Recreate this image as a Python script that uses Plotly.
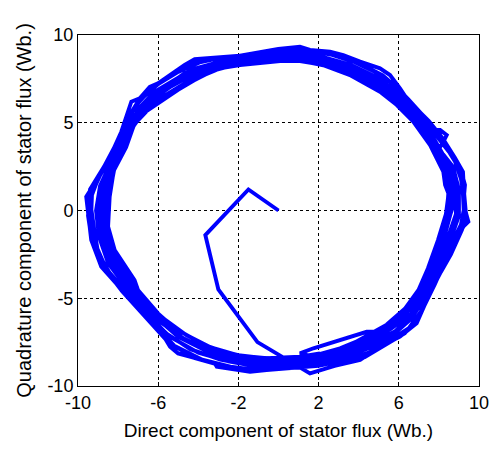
import plotly.graph_objects as go

# Start-up transient of the stator flux (d, q)
transient_d = [0.0, -1.5, -3.65, -3.0, -1.05, 1.57, 2.8, 4.07]
transient_q = [0.0, 1.2, -1.4, -4.5, -7.5, -9.28, -8.85, -8.52]

# Outer lap (counter-clockwise, starting at bottom right)
lap_outer_d = [4.07, 5.06, 6.06, 6.89, 7.39, 8.06, 8.39, 9.22, 9.47, 9.22, 9.30, 9.05, 8.89,
               7.39, 6.72, 6.06, 5.56, 5.06, 4.07, 3.23, 2.57, 1.57, 1.07, -0.01, -1.92, -3.18,
               -4.18, -4.68, -5.51, -6.01, -6.42, -6.92, -7.34, -7.84, -8.59, -8.84, -9.59, -9.34,
               -8.84, -7.51, -6.01, -5.41, -5.01, -3.18, -3.08, -1.42, 0.24, 1.07, 2.07]
lap_outer_q = [-8.52, -7.76, -7.19, -6.43, -5.10, -3.39, -2.82, -0.92, -0.64, 0.41, 1.45, 2.50, 2.78,
               4.97, 5.82, 6.96, 7.72, 8.10, 8.48, 8.86, 9.05, 9.15, 9.33, 9.20, 8.82, 8.71,
               8.63, 8.29, 7.62, 7.25, 7.05, 6.39, 6.20, 4.49, 2.59, 2.12, 0.79, -1.68,
               -3.20, -4.91, -6.62, -7.76, -8.14, -8.71, -8.90, -9.19, -8.99, -8.95, -8.80]

lap_g_d = [3.0, 4.3, 5.3, 6.3, 7.0, 7.5, 8.1, 8.6, 9.15, 9.35, 9.25, 9.2, 8.8, 8.2, 7.5, 6.7, 6.0,
           5.2, 4.1, 3.0, 1.6, 0.2, -1.5, -3.0, -4.3, -5.0, -6.0, -6.9, -7.5, -8.0, -8.7, -9.4,
           -9.5, -9.3, -8.8, -7.8, -6.5, -5.5, -4.2, -2.8, -1.2, 0.3, 2.0]
lap_g_q = [-8.65, -8.35, -7.65, -7.0, -6.0, -4.8, -3.5, -2.5, -1.1, -0.2, 1.1, 2.2, 3.0, 4.1, 5.1, 6.0, 6.9,
           7.7, 8.35, 8.8, 9.1, 9.15, 8.85, 8.65, 8.5, 8.0, 7.2, 6.3, 5.2, 4.0, 2.5, 1.2,
           -0.3, -1.8, -3.1, -4.6, -6.2, -7.5, -8.4, -8.85, -9.15, -9.0, -8.85]

lap_c_d = [3.2, 4.5, 5.5, 6.5, 7.2, 7.8, 8.3, 8.9, 9.25, 9.2, 9.1, 8.7, 8.1, 7.3, 6.5, 5.7, 4.8,
           3.8, 2.6, 1.2, -0.2, -1.8, -3.3, -4.5, -5.4, -6.3, -7.1, -7.7, -8.4, -9.0, -9.4, -9.2,
           -9.0, -8.3, -7.3, -6.2, -5.2, -3.8, -2.4, -1.0, 0.5, 2.0]
lap_c_q = [-8.55, -8.1, -7.45, -6.7, -5.6, -4.2, -2.9, -1.5, -0.3, 0.9, 2.0, 3.1, 4.2, 5.3, 6.3, 7.25, 7.9,
           8.45, 8.9, 9.15, 9.1, 8.85, 8.6, 8.3, 7.65, 7.0, 6.0, 4.6, 3.0, 1.8, 0.6, -1.0,
           -2.4, -3.8, -5.1, -6.5, -7.7, -8.5, -8.9, -9.1, -8.95, -8.8]

# Lap just inside the outer edge (with the small kink at upper right)
lap_a_d = [3.5, 4.6, 5.8, 6.7, 7.3, 7.9, 8.6, 9.0, 9.0, 8.7, 8.0, 8.22, 8.39, 8.06, 7.72, 7.1,
           6.3, 5.4, 4.3, 3.0, 1.5, 0.0, -1.6, -3.0, -4.3, -5.3, -6.2, -6.9, -7.6, -8.3, -8.9,
           -9.1, -8.95, -8.5, -7.6, -6.6, -5.4, -4.0, -2.5, -1.0, 0.5, 2.0]
lap_a_q = [-8.2, -7.6, -6.9, -5.9, -4.7, -3.2, -1.6, -0.3, 1.2, 2.5, 3.5, 3.92, 4.30, 4.59, 4.59, 5.2,
           6.3, 7.2, 7.9, 8.5, 8.9, 8.95, 8.7, 8.45, 8.05, 7.35, 6.75, 5.9, 4.5, 2.9, 1.4,
           0.0, -1.5, -3.0, -4.4, -5.9, -7.2, -8.1, -8.6, -8.9, -8.85, -8.6]

lap_f_d = [3.4, 4.6, 5.7, 6.6, 7.3, 7.9, 8.5, 9.1, 9.3, 9.1, 8.8, 8.2, 7.4, 6.6, 5.8, 4.8, 3.6,
           2.2, 0.7, -0.9, -2.5, -3.8, -5.0, -6.0, -6.9, -7.5, -8.1, -8.7, -9.3, -9.35, -9.1,
           -8.6, -7.7, -6.7, -5.6, -4.4, -2.9, -1.3, 0.4, 2.0]
lap_f_q = [-8.3, -7.8, -7.1, -6.2, -5.0, -3.7, -2.2, -0.8, 0.4, 1.8, 2.8, 3.9, 5.0, 6.0, 6.9, 7.65, 8.3,
           8.75, 9.0, 8.95, 8.75, 8.5, 7.9, 7.2, 6.4, 5.3, 3.8, 2.5, 1.0, -0.5, -2.0,
           -3.3, -4.5, -5.7, -7.0, -7.9, -8.5, -8.85, -8.8, -8.7]

lap_d_d = [3.3, 4.5, 5.6, 6.6, 7.2, 7.8, 8.4, 8.85, 8.85, 8.5, 7.9, 7.1, 6.1, 5.1, 3.9, 2.5,
           1.0, -0.6, -2.1, -3.5, -4.7, -5.7, -6.6, -7.3, -7.9, -8.5, -8.95, -8.95, -8.7, -8.1,
           -7.2, -6.2, -5.0, -3.6, -2.0, -0.5, 1.0, 2.0]
lap_d_q = [-8.1, -7.5, -6.75, -5.9, -4.8, -3.3, -1.7, -0.2, 1.4, 2.6, 3.8, 5.1, 6.3, 7.25, 8.05, 8.6,
           8.85, 8.85, 8.6, 8.3, 7.8, 7.0, 6.2, 5.1, 3.8, 2.4, 0.9, -0.6, -2.2, -3.6,
           -4.8, -6.0, -7.2, -8.0, -8.55, -8.7, -8.6, -8.5]

lap_k_d = [3.1, 4.4, 5.5, 6.45, 7.1, 7.7, 8.25, 8.65, 8.7, 8.45, 7.85, 7.0, 6.05, 5.0, 3.8, 2.4,
           0.9, -0.6, -2.0, -3.5, -4.7, -5.7, -6.6, -7.3, -7.9, -8.4, -8.8, -8.8, -8.55, -7.9,
           -7.0, -6.0, -4.8, -3.4, -1.8, -0.2, 2.0]
lap_k_q = [-8.0, -7.4, -6.65, -5.75, -4.65, -3.1, -1.6, 0.1, 1.5, 2.6, 3.9, 5.15, 6.2, 7.1, 7.9, 8.45,
           8.75, 8.75, 8.5, 8.2, 7.6, 6.8, 6.0, 4.9, 3.6, 2.3, 0.8, -0.8, -2.3, -3.7,
           -4.9, -6.1, -7.25, -8.0, -8.45, -8.6, -8.4]

# Lap cutting inside at the bottom right
lap_b_d = [1.07, 1.74, 4.40, 5.06, 5.6, 6.5, 7.2, 7.8, 8.3, 8.7, 8.75, 8.4, 7.8, 7.0, 6.0, 5.0,
           3.8, 2.5, 1.0, -0.5, -2.0, -3.4, -4.6, -5.7, -6.6, -7.2, -7.9, -8.4, -8.75, -8.8,
           -8.5, -7.9, -7.0, -5.9, -4.6, -3.2, -1.6, 0.5, 2.0]
lap_b_q = [-8.14, -7.85, -6.91, -6.91, -6.6, -5.6, -4.3, -2.8, -1.2, 0.2, 1.6, 2.8, 4.0, 5.3, 6.4, 7.2,
           7.95, 8.45, 8.7, 8.7, 8.5, 8.15, 7.55, 6.85, 6.05, 5.1, 3.6, 2.2, 0.7, -0.9,
           -2.4, -3.8, -5.0, -6.35, -7.4, -8.1, -8.5, -8.55, -8.4]

lap_e_d = [3.2, 4.3, 5.4, 6.3, 7.0, 7.6, 8.1, 8.5, 8.6, 8.3, 7.7, 6.9, 6.0, 5.0, 3.7, 2.3, 0.9,
           -0.6, -2.0, -3.5, -4.6, -5.6, -6.6, -7.3, -7.8, -8.3, -8.6, -8.65, -8.35, -7.7, -6.8,
           -5.8, -4.6, -3.2, -1.6, 0.0, 2.0]
lap_e_q = [-7.9, -7.2, -6.5, -5.6, -4.5, -3.0, -1.5, 0.0, 1.3, 2.5, 3.8, 5.0, 6.1, 6.95, 7.75, 8.3, 8.6,
           8.6, 8.4, 8.0, 7.3, 6.6, 5.8, 4.7, 3.4, 2.1, 0.6, -0.9, -2.4, -3.8, -5.0,
           -6.1, -7.1, -7.9, -8.35, -8.45, -8.25]

lap_h_d = [3.1, 4.2, 5.2, 6.2, 6.9, 7.45, 7.95, 8.35, 8.5, 8.3, 7.65, 6.8, 5.95, 5.0, 3.6, 2.3,
           1.0, -0.5, -2.0, -3.3, -4.4, -5.5, -6.5, -7.2, -7.6, -8.2, -8.45, -8.55, -8.25, -7.5,
           -6.9, -6.0, -4.9, -3.5, -2.0, -0.5, 1.0, 2.0]
lap_h_q = [-7.9, -7.3, -6.75, -5.8, -4.75, -3.3, -1.7, -0.2, 1.1, 2.3, 3.75, 5.05, 6.05, 6.85, 7.7, 8.25,
           8.55, 8.55, 8.35, 7.95, 7.3, 6.55, 5.75, 4.9, 3.6, 2.3, 0.8, -0.8, -2.3, -3.8,
           -4.7, -5.95, -6.9, -7.75, -8.25, -8.45, -8.35, -8.2]

# Inner lap
lap_inner_d = [3.07, 4.07, 5.06, 6.06, 7.06, 7.56, 8.06, 8.39, 8.47, 8.31, 8.22, 7.56,
               6.72, 5.90, 5.06, 3.56, 2.57, 2.07, 1.07, 0.08, -1.92, -2.92, -3.91, -5.01, -6.01,
               -7.01, -7.51, -8.17, -8.42, -8.50, -8.17, -7.18, -7.01, -6.01, -5.18, -3.68, -2.25,
               -0.59, 1.07, 2.07]
lap_inner_q = [-7.85, -7.38, -6.91, -6.05, -4.91, -3.39, -1.87, -0.35, 0.98, 1.45, 2.21, 3.73,
               5.06, 6.01, 6.77, 7.72, 8.19, 8.33, 8.52, 8.52, 8.29, 8.10, 7.62, 6.87, 6.11,
               5.34, 4.30, 2.59, 0.79, -0.92, -2.25, -3.96, -4.53, -5.86, -6.71, -7.67, -8.23,
               -8.42, -8.33, -8.14]

flux_d = (transient_d + lap_outer_d + lap_g_d + lap_c_d + lap_a_d + lap_f_d + lap_d_d
          + lap_k_d + lap_b_d + lap_e_d + lap_h_d + lap_inner_d)
flux_q = (transient_q + lap_outer_q + lap_g_q + lap_c_q + lap_a_q + lap_f_q + lap_d_q
          + lap_k_q + lap_b_q + lap_e_q + lap_h_q + lap_inner_q)

x_ticks = [-10, -6, -2, 2, 6, 10]
y_ticks = [-10, -5, 0, 5, 10]

fig = go.Figure()
fig.add_trace(go.Scatter(x=flux_d, y=flux_q, mode="lines",
                         line=dict(color="#0000FF", width=3.9), showlegend=False,
                         hoverinfo="skip"))

family = "Liberation Sans, Arial, sans-serif"
tick_font = dict(family=family, size=18, color="black")
axis_common = dict(showline=True, linecolor="black", linewidth=1, mirror=True,
                   ticks="inside", ticklen=4, tickcolor="black",
                   showgrid=True, gridcolor="black", gridwidth=1, griddash="3px,3px",
                   zeroline=False, tickfont=tick_font, automargin=False)

fig.update_layout(
    width=490, height=450,
    margin=dict(l=78, r=11, t=35, b=64),
    paper_bgcolor="white", plot_bgcolor="white",
    xaxis=dict(range=[-10, 10], tickvals=x_ticks, ticktext=[str(v) for v in x_ticks],
               title=dict(text="Direct component of stator flux (Wb.)",
                          font=dict(family=family, size=19, color="black"),
                          standoff=12),
               **axis_common),
    yaxis=dict(range=[-10, 10], tickvals=y_ticks, ticktext=[str(v) for v in y_ticks],
               title=dict(text="Quadrature component of stator flux (Wb.)",
                          font=dict(family=family, size=20, color="black"),
                          standoff=10),
               **axis_common),
)

fig.write_html("out.html")
